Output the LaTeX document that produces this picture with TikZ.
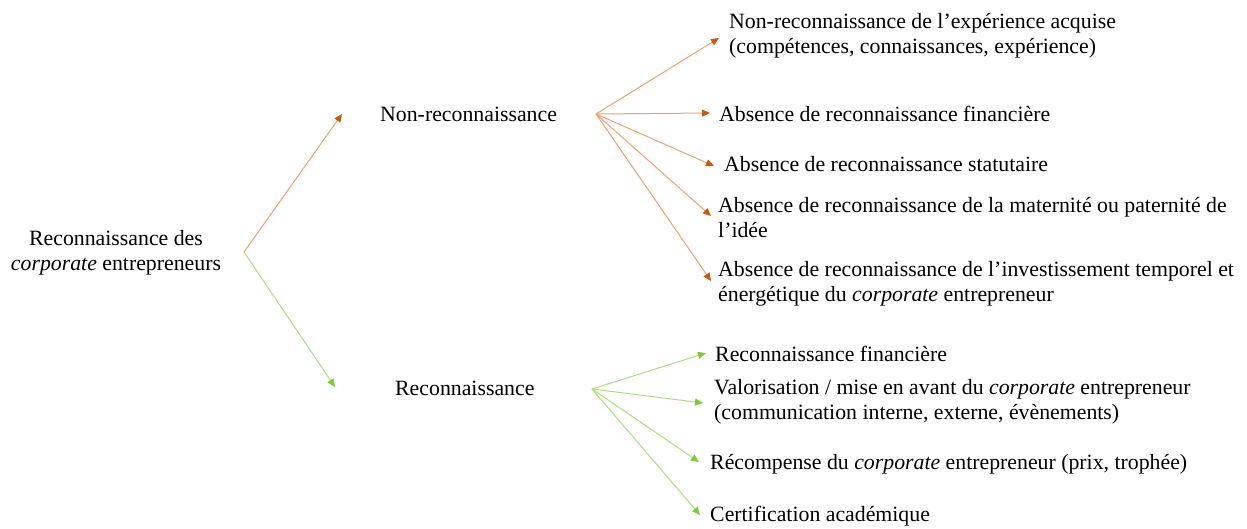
\documentclass[tikz,border=0pt]{standalone}
\usepackage{fontspec}
\setmainfont{Liberation Serif}
\usetikzlibrary{arrows.meta}
\definecolor{orline}{RGB}{238,160,112}
\definecolor{orhead}{RGB}{197,90,17}
\definecolor{grline}{RGB}{172,222,130}
\definecolor{grhead}{RGB}{125,200,60}
\begin{document}
\begin{tikzpicture}[x=1pt,y=-1pt,
  every node/.style={font=\fontsize{21.8}{25}\selectfont, inner sep=0pt},
  lbl/.style={anchor=west, align=left},
  orarrow/.style={draw=orline, line width=1pt, -{Triangle[length=8pt,width=7pt,color=orhead]}},
  grarrow/.style={draw=grline, line width=1pt, -{Triangle[length=8pt,width=7pt,color=grhead]}}]
\useasboundingbox (0,0) rectangle (1247,529);
% root
\node[align=center] (root) at (116,253) {Reconnaissance des\\\textit{corporate} entrepreneurs};
\coordinate (jr) at (244,252);
% level 2
\node[lbl] (nr) at (380,114) {Non-reconnaissance};
\node[lbl] (r) at (395,388) {Reconnaissance};
\coordinate (tnr) at (342,114);
\coordinate (tr) at (335,387);
\draw[orarrow] (jr) -- (tnr);
\draw[grarrow] (jr) -- (tr);
% orange fan
\coordinate (jo) at (596,114);
\node[lbl] (o1) at (729,36) {Non-reconnaissance de l’expérience acquise\\(compétences, connaissances, expérience)};
\node[lbl] (o2) at (719,114) {Absence de reconnaissance financière};
\node[lbl] (o3) at (724,164) {Absence de reconnaissance statutaire};
\node[lbl] (o4) at (718,218) {Absence de reconnaissance de la maternité ou paternité de\\l’idée};
\node[lbl] (o5) at (718,284) {Absence de reconnaissance de l’investissement temporel et\\énergétique du \textit{corporate} entrepreneur};
\coordinate (to1) at (719,38);
\coordinate (to2) at (710,113);
\coordinate (to3) at (714,166);
\coordinate (to4) at (711,216);
\coordinate (to5) at (711,281);
\foreach \t in {to1,to2,to3,to4,to5} \draw[orarrow] (jo) -- (\t);
% green fan
\coordinate (jg) at (592,389);
\node[lbl] (g1) at (715,354) {Reconnaissance financière};
\node[lbl] (g2) at (714,402) {Valorisation / mise en avant du \textit{corporate} entrepreneur\\(communication interne, externe, évènements)};
\node[lbl] (g3) at (710,464) {Récompense du \textit{corporate} entrepreneur (prix, trophée)};
\node[lbl] (g4) at (710,516) {Certification académique};
\coordinate (tg1) at (706,353);
\coordinate (tg2) at (703,403);
\coordinate (tg3) at (699,462);
\coordinate (tg4) at (700,515);
\foreach \t in {tg1,tg2,tg3,tg4} \draw[grarrow] (jg) -- (\t);
\end{tikzpicture}
\end{document}
